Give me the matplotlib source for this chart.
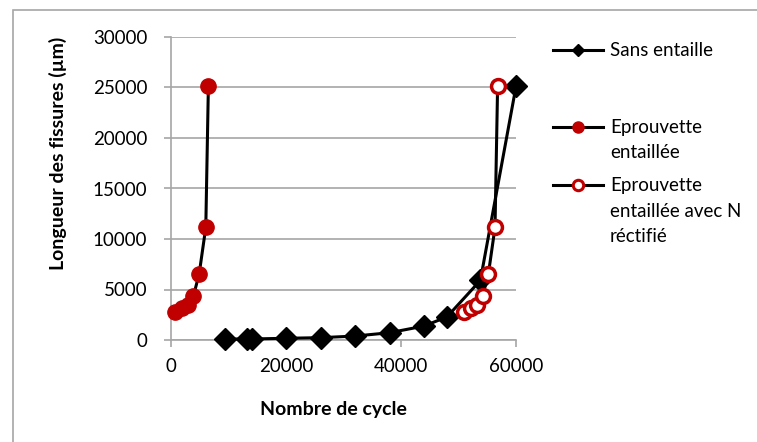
import matplotlib
matplotlib.use("Agg")
import matplotlib.pyplot as plt
from matplotlib.lines import Line2D
from matplotlib.patches import Rectangle

plt.rcParams['font.family'] = ['Lato', 'DejaVu Sans']

# Sans entaille
n_sans = [9400, 13300, 14000, 20000, 26000, 32000, 38000, 44000, 48000, 53800, 60000]
a_sans = [100, 100, 100, 170, 230, 390, 720, 1380, 2290, 5900, 25100]

# Eprouvette entaillee
n_ent = [700, 1850, 3000, 3900, 4900, 6050, 6500]
a_ent = [2800, 3150, 3450, 4350, 6550, 11150, 25100]

# Eprouvette entaillee avec N rectifie
n_rect = [51000, 52150, 53300, 54200, 55200, 56350, 56800]
a_rect = [2800, 3150, 3450, 4350, 6550, 11150, 25100]

red = '#C00000'
grey = '#A6A6A6'

fig = plt.figure(figsize=(7.57, 4.42), dpi=100)
fig.patches.append(Rectangle((13 / 757, -0.1), 1.0, 1 - 10 / 442 + 0.1, transform=fig.transFigure,
                             fill=False, edgecolor=grey, linewidth=1.2))

ax = fig.add_axes([171 / 757, 1 - 340 / 442, 345 / 757, 303 / 442])

ax.plot(n_sans, a_sans, color='black', lw=2.2, marker='D', ms=11, mfc='black', mec='black',
        zorder=3, clip_on=False)
ax.plot(n_ent, a_ent, color='black', lw=2.2, marker='o', ms=11, mfc=red, mec=red,
        zorder=3, clip_on=False)
ax.plot(n_rect, a_rect, color='black', lw=2.2, marker='o', ms=10, mfc='white', mec=red, mew=2.5,
        zorder=4, clip_on=False)

ax.set_xlim(0, 60000)
ax.set_ylim(0, 30000)
ax.set_xticks([0, 20000, 40000, 60000])
ax.set_yticks(range(0, 30001, 5000))
ax.yaxis.grid(True, color=grey, lw=1.2)
ax.set_axisbelow(True)
for s in ['top', 'right']:
    ax.spines[s].set_visible(False)
for s in ['left', 'bottom']:
    ax.spines[s].set_color(grey)
    ax.spines[s].set_linewidth(1.2)
ax.tick_params(colors=grey, labelcolor='black', labelsize=13.5, length=5, width=1.2)
ax.tick_params(axis='y', pad=12)
ax.tick_params(axis='x', pad=8)

fig.text(58 / 757, 1 - 153 / 442, 'Longueur des fissures (µm)', rotation=90, ha='center', va='center',
         fontsize=14, fontweight='bold')
fig.text(333 / 757, 1 - 409 / 442, 'Nombre de cycle', ha='center', va='center',
         fontsize=14, fontweight='bold')

# legend
leg = [
    (50, ['Sans entaille'], dict(marker='D', ms=6, mfc='black', mec='black')),
    (127, ['Eprouvette', 'entaillée'], dict(marker='o', ms=8, mfc=red, mec=red)),
    (185, ['Eprouvette', 'entaillée avec N', 'réctifié'], dict(marker='o', ms=7.5, mfc='white', mec=red, mew=2.2)),
]
for y, lines, style in leg:
    yf = 1 - y / 442
    fig.add_artist(Line2D([553 / 757, 603 / 757], [yf, yf], transform=fig.transFigure,
                          color='black', lw=2.2))
    fig.add_artist(Line2D([578 / 757], [yf], transform=fig.transFigure, color='black', **style))
    for i, t in enumerate(lines):
        fig.text(610 / 757, 1 - (y + 26 * i) / 442, t, ha='left', va='center', fontsize=13.5)

fig.savefig('out.png', dpi=100)
